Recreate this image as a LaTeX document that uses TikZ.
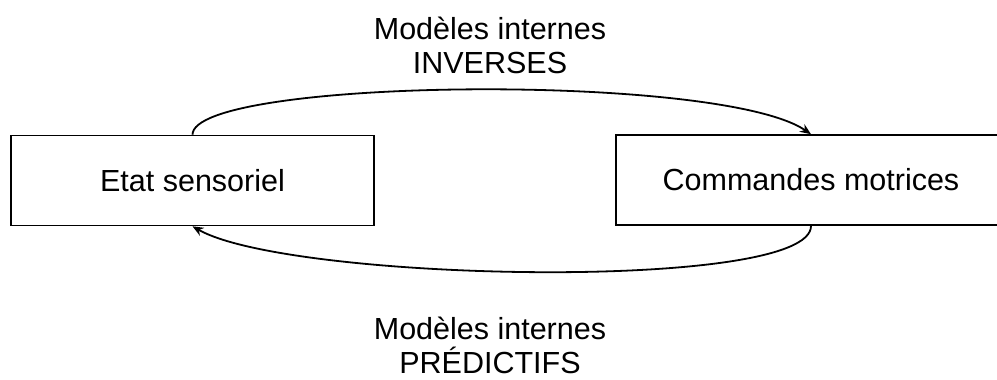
\documentclass[tikz,border=0pt]{standalone}
\usepackage{fontspec}
\setmainfont{Liberation Sans}
\usepackage{tikz}
\usetikzlibrary{positioning, shapes, arrows.meta}
\tikzset{etat/.style={draw=black, fill=white, line width=1.6pt, minimum height=90pt, inner sep=0pt}}
\tikzset{fleche/.style={line width=1.8pt, -{Stealth[length=11pt, width=9pt]}}}

\begin{document}
\begin{tikzpicture}[x=1pt, y=-1pt, every node/.style={font=\fontsize{30.5}{34}\selectfont}]
    \useasboundingbox (0,0) rectangle (997,380);
    \node[etat, minimum width=363pt] (sensoriel) at (192.5,180.5) {Etat sensoriel};
    \node[etat, minimum width=390pt] (motrices) at (811,180) {Commandes motrices};
    % modeles inverses
    \node[align=center] (inverses) at (490,45) {Modèles internes\\INVERSES};
    \draw[fleche] (sensoriel.north) .. controls (193,78) and (720,72) .. (motrices.north);
    % modeles predictifs
    \node[align=center] (predictifs) at (490,345) {Modèles internes\\PRÉDICTIFS};
    \draw[fleche] (motrices.south) .. controls (812,292) and (290,282) .. (sensoriel.south);
\end{tikzpicture}
\end{document}
